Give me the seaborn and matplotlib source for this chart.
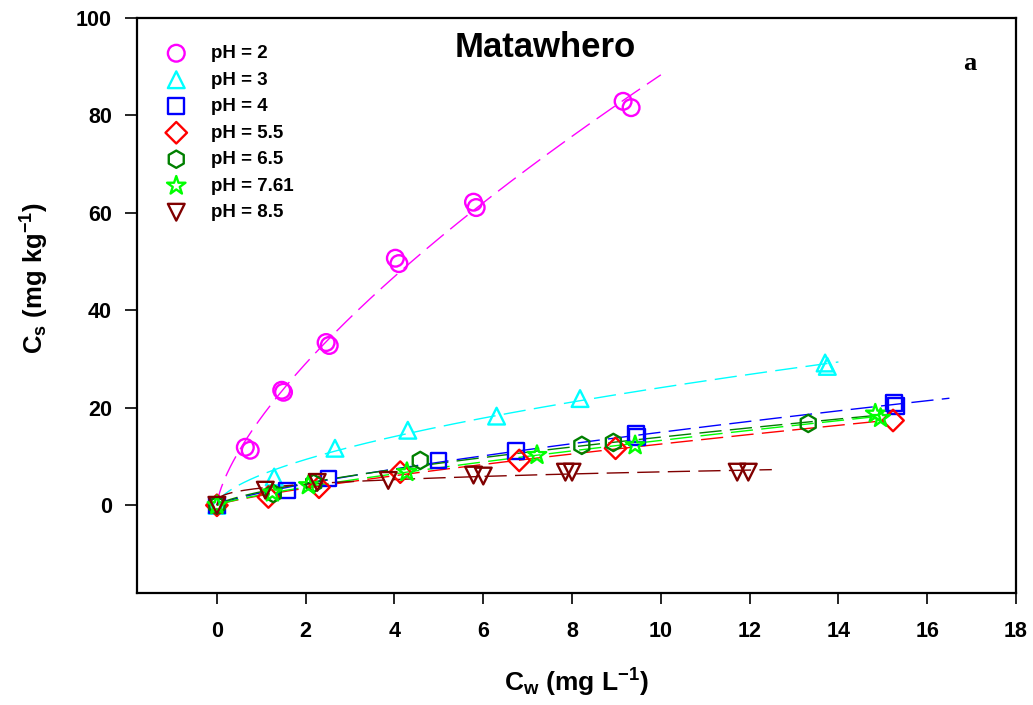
import numpy as np
import pandas as pd
import matplotlib
matplotlib.use("Agg")
import matplotlib.pyplot as plt
import seaborn as sns

# ---------------- data ----------------
labels = ["pH = 2", "pH = 3", "pH = 4", "pH = 5.5", "pH = 6.5", "pH = 7.61", "pH = 8.5"]
colors = ["#FF00FF", "#00FFFF", "#0000FF", "#FF0000", "#008000", "#00FF00", "#800000"]
markers = ["o", "^", "s", "D", "h", "*", "v"]

x_ph2 = [0, 0.64, 0.75, 1.46, 1.50, 2.46, 2.53, 4.02, 4.10, 5.78, 5.84, 9.15, 9.33]
y_ph2 = [0, 11.9, 11.3, 23.6, 23.2, 33.4, 32.8, 50.7, 49.6, 62.2, 61.1, 82.9, 81.6]

x_ph3 = [0, 1.29, 2.66, 4.30, 6.30, 8.18, 13.70, 13.75]
y_ph3 = [0, 5.8, 11.7, 15.4, 18.3, 21.9, 29.2, 28.5]

x_ph4 = [0, 1.58, 2.51, 4.99, 6.74, 9.44, 9.46, 15.25, 15.30]
y_ph4 = [0, 3.0, 5.5, 9.2, 11.1, 14.6, 14.0, 21.0, 20.4]

x_ph55 = [0, 1.16, 2.30, 4.13, 6.81, 8.98, 15.23]
y_ph55 = [0, 1.7, 3.7, 6.8, 9.2, 11.7, 17.4]

x_ph65 = [0, 1.27, 2.18, 4.58, 8.22, 8.93, 13.32]
y_ph65 = [0, 2.4, 4.5, 9.2, 12.3, 12.9, 16.8]

x_ph761 = [0, 1.25, 2.06, 4.28, 7.21, 9.42, 14.83, 14.95]
y_ph761 = [0, 2.6, 4.1, 6.8, 10.3, 12.3, 18.8, 17.9]

x_ph85 = [0, 1.09, 2.26, 3.86, 5.78, 6.00, 7.85, 8.00, 11.72, 11.97]
y_ph85 = [0, 3.1, 4.7, 5.1, 6.2, 6.0, 6.8, 6.8, 6.8, 6.8]

# end of each fitted (Freundlich) curve
fit_end = [10.0, 14.0, 16.5, 15.0, 15.0, 15.0, 12.5]

xs_all = [x_ph2, x_ph3, x_ph4, x_ph55, x_ph65, x_ph761, x_ph85]
ys_all = [y_ph2, y_ph3, y_ph4, y_ph55, y_ph65, y_ph761, y_ph85]

x_ticks = [0, 2, 4, 6, 8, 10, 12, 14, 16, 18]
y_ticks = [0, 20, 40, 60, 80, 100]


def freundlich_fit(xv, yv):
    """Least-squares fit of y = K x^n in linear space (grid over n)."""
    xa = np.asarray(xv, float)
    ya = np.asarray(yv, float)
    best = None
    for n in np.linspace(0.1, 1.5, 1401):
        xn = xa ** n
        k = np.sum(ya * xn) / np.sum(xn * xn)
        sse = np.sum((ya - k * xn) ** 2)
        if best is None or sse < best[0]:
            best = (sse, k, n)
    return best[1], best[2]


# ---------------- style ----------------
sns.set_style("ticks")
plt.rcParams["font.family"] = ["Liberation Sans", "DejaVu Sans"]
plt.rcParams["font.weight"] = "bold"
plt.rcParams["text.color"] = "black"
plt.rcParams["axes.labelcolor"] = "black"
plt.rcParams["xtick.color"] = "black"
plt.rcParams["ytick.color"] = "black"
plt.rcParams["mathtext.fontset"] = "custom"
plt.rcParams["mathtext.rm"] = "Liberation Sans:bold"
plt.rcParams["mathtext.it"] = "Liberation Sans:bold"
plt.rcParams["mathtext.bf"] = "Liberation Sans:bold"
plt.rcParams["mathtext.default"] = "rm"

W, H = 1033, 705
fig = plt.figure(figsize=(W / 100, H / 100), dpi=100)
L, R, T, B = 137, 1016, 18, 593
ax = fig.add_axes([L / W, 1 - B / H, (R - L) / W, (B - T) / H])

sizes = [145, 145, 125, 120, 155, 195, 145]

for lab, c, m, xv, yv, xe, s in zip(labels, colors, markers, xs_all, ys_all, fit_end, sizes):
    k, n = freundlich_fit(xv, yv)
    xf = np.linspace(0, xe, 300)
    yf = k * xf ** n
    sns.lineplot(x=xf, y=yf, ax=ax, color=c, lw=1.0, linestyle=(0, (16, 6)),
                 legend=False, zorder=2, sort=False, estimator=None)
    df = pd.DataFrame({"x": xv, "y": yv})
    sns.scatterplot(data=df, x="x", y="y", ax=ax, marker=m, s=s, color=c,
                    facecolor="none", edgecolor=c, linewidth=1.7, label=lab, zorder=3)

ax.set_xlim(-1.8, 18)
ax.set_ylim(-18, 100)
ax.set_xticks(x_ticks)
ax.set_yticks(y_ticks)
ax.tick_params(axis="x", direction="out", length=8, width=1.2, pad=12, labelsize=15.5,
               colors="black")
ax.tick_params(axis="y", direction="out", length=9, width=1.2, pad=9, labelsize=15.5,
               colors="black")
for lbl in ax.get_xticklabels() + ax.get_yticklabels():
    lbl.set_fontweight("bold")
for sp in ax.spines.values():
    sp.set_visible(True)
    sp.set_linewidth(1.6)
    sp.set_color("black")

ax.set_xlabel(r"C$_{\mathrm{w}}$ (mg L$^{\mathrm{-1}}$)", fontsize=19, fontweight="bold")
ax.set_ylabel(r"C$_{\mathrm{s}}$ (mg kg$^{\mathrm{-1}}$)", fontsize=18.5, fontweight="bold")
ax.xaxis.set_label_coords(0.5, -0.128)
ax.yaxis.set_label_coords(-0.098, 0.548)

ax.text(0.465, 0.932, "Matawhero", transform=ax.transAxes, ha="center", va="baseline",
        fontsize=25, fontweight="bold")
ax.text((970 - L) / (R - L), (B - 63) / (B - T), "a", transform=ax.transAxes,
        ha="center", va="center", fontsize=19, fontweight="bold",
        family=["Liberation Serif", "DejaVu Serif"])

leg = ax.legend(loc="upper left", bbox_to_anchor=(0.034, 0.953), frameon=False,
                borderpad=0, borderaxespad=0, handlelength=1.0, handletextpad=1.35,
                labelspacing=0.5, prop={"weight": "bold", "size": 13.5})

fig.savefig("out.png", dpi=100)
